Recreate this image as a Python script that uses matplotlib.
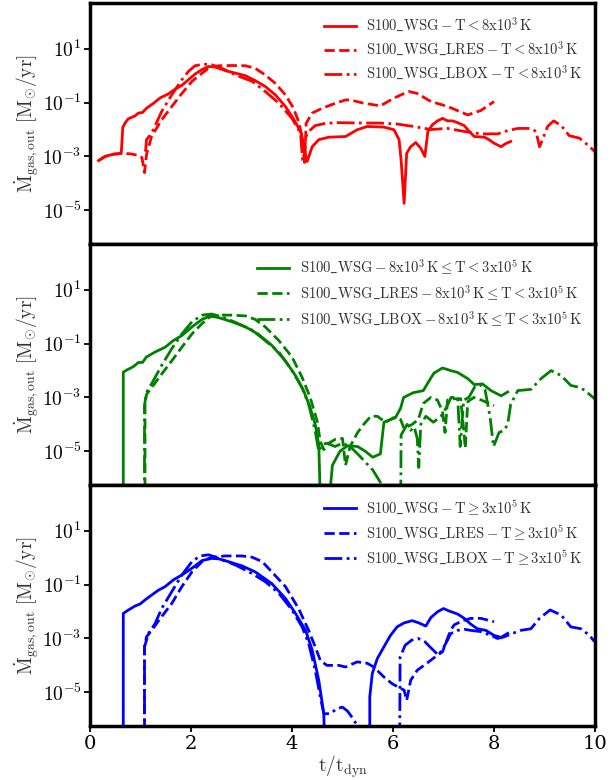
import numpy as np
import matplotlib
matplotlib.use("Agg")
import matplotlib.pyplot as plt
from matplotlib.ticker import FixedLocator, FuncFormatter, NullLocator

plt.rcParams['mathtext.fontset'] = 'cm'
plt.rcParams['font.family'] = 'DejaVu Serif'

BOTTOM = 1e-8  # values below the axis floor (curve leaves the panel)

# ---------------- cold gas (T < 8e3 K) ----------------
cold_wsg_t = [0.17, 0.3, 0.45, 0.62, 0.65, 0.70, 0.76, 0.89, 0.96, 1.04, 1.12, 1.26, 1.39, 1.55, 1.69, 1.82,
              1.95, 2.08, 2.22, 2.35, 2.48, 2.68, 2.88, 3.08, 3.27, 3.47, 3.67, 3.87, 4.03, 4.17, 4.23, 4.27,
              4.30, 4.40, 4.53, 4.73, 5.06, 5.29, 5.49, 5.82, 6.02, 6.12, 6.16, 6.22, 6.27, 6.35, 6.45, 6.55,
              6.63, 6.69, 6.78, 6.88, 6.98, 7.08, 7.18, 7.28, 7.41, 7.51, 7.61, 7.81, 7.90, 8.00, 8.14, 8.23, 8.33]
cold_wsg_m = [7e-4, 1.0e-3, 1.2e-3, 1.3e-3, 1.2e-2, 1.8e-2, 2.5e-2, 3.2e-2, 4.1e-2, 4.3e-2, 6.2e-2, 9.5e-2,
              0.15, 0.21, 0.32, 0.44, 0.71, 1.15, 1.7, 2.2, 2.1, 1.55, 1.25, 1.0, 0.66, 0.40, 0.195, 0.072,
              0.025, 8.5e-3, 3.1e-3, 1.1e-3, 6.5e-4, 2.3e-3, 4.2e-3, 5.2e-3, 5.5e-3, 9.8e-3, 1.3e-2, 1.23e-2,
              9.8e-3, 4.2e-3, 7.4e-4, 1.8e-5, 1.3e-3, 2.3e-3, 3.3e-3, 2.0e-3, 1.0e-3, 8.5e-3, 1.5e-2, 2.1e-2,
              2.6e-2, 2.1e-2, 2.1e-2, 1.8e-2, 1.4e-2, 8.5e-3, 5.5e-3, 5.2e-3, 4.2e-3, 3.1e-3, 2.3e-3, 3.0e-3, 3.6e-3]

cold_lres_t = [0.17, 0.3, 0.45, 0.62, 0.8, 0.95, 1.03, 1.08, 1.12, 1.22, 1.42, 1.62, 1.82, 2.02, 2.22, 2.38,
               2.55, 2.81, 3.08, 3.27, 3.47, 3.67, 3.87, 4.03, 4.13, 4.20, 4.23, 4.25, 4.28, 4.40, 4.60, 4.86,
               5.06, 5.16, 5.42, 5.75, 6.02, 6.31, 6.48, 6.75, 7.08, 7.48, 7.74, 8.0]
cold_lres_m = [7e-4, 1.0e-3, 1.2e-3, 1.3e-3, 1.25e-3, 1.1e-3, 9e-4, 2.5e-4, 1.2e-3, 5.5e-3, 2.3e-2, 7.2e-2,
               0.22, 0.62, 1.25, 2.1, 2.35, 2.4, 2.35, 1.9, 1.07, 0.52, 0.195, 0.062, 0.02, 5.5e-3, 1.3e-3,
               6e-4, 1.7e-2, 4.1e-2, 6.2e-2, 9.5e-2, 0.126, 0.126, 0.095, 0.076, 0.148, 0.26, 0.22, 0.11,
               0.072, 0.035, 0.051, 0.11]

cold_lbox_t = [1.10, 1.12, 1.22, 1.42, 1.62, 1.82, 1.95, 2.08, 2.25, 2.41, 2.61, 2.88, 3.21, 3.47, 3.74, 4.0,
               4.17, 4.21, 4.24, 4.27, 4.33, 4.46, 4.66, 4.92, 5.4, 5.75, 6.08, 6.41, 6.75, 7.08, 7.41, 7.74,
               8.07, 8.27, 8.47, 8.73, 8.83, 8.90, 8.96, 9.06, 9.18, 9.33, 9.49, 9.69, 9.85, 10.0]
cold_lbox_m = [1.5e-3, 4.2e-3, 7.2e-3, 4.7e-2, 0.195, 0.71, 1.45, 2.35, 2.7, 2.55, 1.9, 1.07, 0.62, 0.26,
               0.095, 0.026, 7.2e-3, 7.4e-4, 6.5e-4, 5e-3, 8.5e-3, 1.4e-2, 1.7e-2, 1.8e-2, 1.75e-2, 1.74e-2,
               1.6e-2, 1.3e-2, 1.0e-2, 1.1e-2, 8.5e-3, 6.9e-3, 6.9e-3, 9.1e-3, 1.1e-2, 1.1e-2, 8.5e-3, 2.3e-3,
               4.2e-3, 1.3e-2, 2.1e-2, 1.4e-2, 5.9e-3, 4.8e-3, 2.7e-3, 1.5e-3]

# ---------------- warm gas (8e3 K <= T < 3e5 K) ----------------
warm_wsg_t = [0.66, 0.66, 0.73, 0.86, 0.96, 1.04, 1.12, 1.29, 1.49, 1.65, 1.82, 2.02, 2.22, 2.38, 2.55, 2.81,
              3.08, 3.34, 3.6, 3.87, 4.07, 4.23, 4.36, 4.46, 4.53, 4.58, 4.68, 4.8, 4.95, 5.1, 5.3, 5.45, 5.6,
              5.75, 5.82, 5.95, 6.05, 6.15, 6.21, 6.4, 6.6, 6.71, 6.81, 6.98, 7.14, 7.28, 7.48, 7.61, 7.77,
              7.94, 8.14, 8.27]
warm_wsg_m = [BOTTOM, 8.7e-3, 1.05e-2, 1.4e-2, 2.0e-2, 2.0e-2, 3.2e-2, 4.9e-2, 7.4e-2, 0.13, 0.2, 0.42, 0.8,
              1.07, 0.93, 0.65, 0.42, 0.22, 0.087, 0.023, 6.5e-3, 1.8e-3, 4.2e-4, 1e-4, 1.8e-5, BOTTOM, BOTTOM,
              3e-6, 1e-5, 1.6e-5, 1.5e-5, 1e-5, 6e-6, 8e-6, 1.2e-4, 1.5e-4, 1.8e-4, 4e-4, 1e-3, 1.5e-3,
              1.8e-3, 4e-3, 8e-3, 1.25e-2, 1e-2, 8.5e-3, 5e-3, 3e-3, 3.2e-3, 1.8e-3, 1.15e-3, 1.6e-3]

warm_lres_t = [1.09, 1.09, 1.12, 1.22, 1.42, 1.62, 1.82, 2.02, 2.22, 2.38, 2.55, 2.81, 3.08, 3.27, 3.47, 3.74,
               4.0, 4.2, 4.36, 4.5, 4.56, 4.63, 4.73, 4.86, 5.0, 5.06, 5.15, 5.3, 5.42, 5.56, 5.69, 5.85, 6.02,
               6.15, 6.22, 6.38, 6.5, 6.6, 6.75, 6.88, 6.98, 7.03, 7.08, 7.2, 7.34, 7.4, 7.43, 7.48, 7.6,
               7.75, 7.9, 8.0]
warm_lres_m = [BOTTOM, 5.6e-4, 1.3e-3, 2.3e-3, 7.4e-3, 2.3e-2, 7.4e-2, 0.23, 0.56, 1.0, 1.15, 1.15, 1.07,
               0.8, 0.42, 0.13, 0.032, 5.6e-3, 1e-3, 1.3e-4, 2.3e-5, 1.15e-5, 2e-5, 2.8e-5, 3e-5, 3e-6,
               1.5e-5, 5e-5, 1e-4, 2e-4, 2e-4, 1.2e-4, 1.8e-4, 1.5e-4, 7e-5, 1e-4, 1.5e-4, 6e-4, 1e-3, 8e-4,
               3e-4, 5e-5, 8e-4, 9e-4, 9e-4, 6e-5, 1.3e-5, 7e-4, 1e-3, 8e-4, 6e-4, 5e-4]

warm_lbox_t = [1.08, 1.08, 1.12, 1.22, 1.42, 1.62, 1.82, 2.02, 2.22, 2.41, 2.61, 2.88, 3.21, 3.47, 3.74, 4.0,
               4.2, 4.33, 4.46, 4.53, 4.6, 4.7, 4.85, 5.0, 5.15, 5.3, 5.45, 5.6, 5.75, 5.82, 6.15, 6.16, 6.28,
               6.35, 6.42, 6.48, 6.51, 6.55, 6.65, 6.8, 6.95, 7.05, 7.15, 7.28, 7.33, 7.4, 7.5, 7.62, 7.72,
               7.82, 7.92, 7.99, 8.1, 8.2, 8.27, 8.33, 8.47, 8.73, 8.93, 9.13, 9.33, 9.52, 9.72, 9.85, 10.0]
warm_lbox_m = [BOTTOM, 5e-4, 1.55e-3, 3.2e-3, 1.55e-2, 6.5e-2, 0.23, 0.65, 1.15, 1.26, 1.0, 0.62, 0.32, 0.13,
               0.049, 0.01, 2.3e-3, 5.6e-4, 5.6e-5, 1e-5, 1.8e-5, 2e-5, 1.5e-5, 2e-5, 1.5e-5, 8e-6, 4e-6,
               2e-6, 7e-7, BOTTOM, BOTTOM, 4e-5, 1e-4, 6e-5, 8e-5, 3e-5, 2.5e-6, 1e-4, 2e-4, 1.2e-4, 2e-4,
               4e-4, 1e-3, 1e-3, 1.5e-5, 8e-4, 1e-3, 2.5e-3, 3e-3, 2e-3, 2e-4, 1.5e-5, 5e-5, 6e-5, 1e-4,
               5.6e-4, 1.8e-3, 2e-3, 5e-3, 1e-2, 6.5e-3, 2.8e-3, 2.3e-3, 1.5e-3, 8.7e-4]

# ---------------- hot gas (T >= 3e5 K) ----------------
hot_wsg_t = [0.66, 0.66, 0.73, 0.89, 0.99, 1.09, 1.22, 1.36, 1.49, 1.65, 1.82, 2.02, 2.22, 2.41, 2.55, 2.74,
             3.01, 3.27, 3.6, 3.87, 4.07, 4.27, 4.4, 4.53, 4.63, 4.66, 5.54, 5.54, 5.59, 5.69, 5.82, 5.95, 6.08,
             6.22, 6.38, 6.51, 6.65, 6.75, 6.88, 7.0, 7.11, 7.28, 7.41, 7.54, 7.67, 7.84, 8.0, 8.14, 8.27]
hot_wsg_m = [BOTTOM, 8.5e-3, 1.05e-2, 1.6e-2, 1.9e-2, 2.7e-2, 4.1e-2, 6.3e-2, 8.5e-2, 0.15, 0.23, 0.41, 0.79,
             0.95, 0.91, 0.72, 0.5, 0.3, 0.11, 0.031, 8.5e-3, 2e-3, 3.7e-4, 2.8e-5, 1.6e-6, BOTTOM, BOTTOM,
             6.8e-6, 5e-5, 1.8e-4, 4.9e-4, 1.3e-3, 2.7e-3, 3.8e-3, 4.6e-3, 3.8e-3, 2.9e-3, 6e-3, 9.8e-3,
             1.3e-2, 1.05e-2, 8.1e-3, 5.6e-3, 3.4e-3, 2.3e-3, 2.0e-3, 1.3e-3, 1.1e-3, 1.55e-3]

hot_lres_t = [1.08, 1.08, 1.12, 1.22, 1.42, 1.62, 1.82, 2.02, 2.22, 2.41, 2.68, 3.01, 3.21, 3.41, 3.6, 3.87,
              4.13, 4.33, 4.46, 4.56, 4.69, 4.93, 5.06, 5.29, 5.49, 5.62, 5.82, 5.98, 6.15, 6.22, 6.27, 6.35,
              6.48, 6.67, 6.88, 6.98, 7.04, 7.14, 7.21, 7.38, 7.54, 7.74, 8.0]
hot_lres_m = [BOTTOM, 4.9e-4, 1.15e-3, 2e-3, 6.5e-3, 2e-2, 8.5e-2, 0.3, 0.72, 1.05, 1.17, 1.17, 1.05, 0.72,
              0.3, 8.5e-2, 1.3e-2, 2e-3, 4.9e-4, 1.55e-4, 1e-4, 1e-4, 8.7e-5, 1.35e-4, 1.2e-4, 8.7e-5, 3.7e-5,
              2.1e-5, 1.4e-5, 1.2e-5, 5e-6, 2.8e-5, 6.6e-5, 1.2e-4, 2.4e-4, 3.2e-4, 6.5e-4, 2e-3, 3.2e-3,
              4.6e-3, 5.6e-3, 5.6e-3, 4.2e-3]

hot_lbox_t = [1.08, 1.08, 1.16, 1.29, 1.42, 1.62, 1.82, 2.02, 2.18, 2.35, 2.55, 2.88, 3.21, 3.47, 3.74, 4.0,
              4.2, 4.33, 4.46, 4.56, 4.63, 4.75, 4.9, 5.0, 5.1, 5.2, 5.3, 5.35, 6.13, 6.14, 6.24, 6.37, 6.5,
              6.63, 6.76, 6.9, 6.98, 7.08, 7.14, 7.28, 7.41, 7.54, 7.74, 7.94, 8.07, 8.2, 8.37, 8.53, 8.73,
              8.9, 9.11, 9.33, 9.52, 9.72, 9.89, 9.99]
hot_lbox_m = [BOTTOM, 4.9e-4, 1.55e-3, 3.6e-3, 1.3e-2, 5.5e-2, 0.23, 0.72, 1.17, 1.29, 0.95, 0.54, 0.26, 0.13,
              0.048, 0.0115, 2.7e-3, 6.5e-4, 6.6e-5, 6.8e-6, 1.6e-6, 1.6e-6, 2.5e-6, 2.8e-6, 2e-6, 1.1e-6,
              5.5e-7, BOTTOM, BOTTOM, 2e-4, 5.6e-4, 8.7e-4, 1e-3, 7.6e-4, 4.3e-4, 2.4e-4, 4e-4, 8.7e-4,
              1.5e-3, 2e-3, 2.2e-3, 2e-3, 1.8e-3, 1.3e-3, 1e-3, 1.15e-3, 1.55e-3, 2e-3, 2.3e-3, 5.6e-3,
              1.15e-2, 7.4e-3, 2.7e-3, 2.3e-3, 1.3e-3, 7.6e-4]

run_names = [r'\mathrm{S100\_WSG}', r'\mathrm{S100\_WSG\_LRES}', r'\mathrm{S100\_WSG\_LBOX}']
phase_labels = [r'\mathrm{T} < 8\mathrm{x}10^3\,\mathrm{K}',
                r'8\mathrm{x}10^3\,\mathrm{K} \leq \mathrm{T} < 3\mathrm{x}10^5\,\mathrm{K}',
                r'\mathrm{T} \geq 3\mathrm{x}10^5\,\mathrm{K}']
phase_colors = ['red', 'green', 'blue']
styles = ['-', '--', '-.']

panels = [
    [(cold_wsg_t, cold_wsg_m), (cold_lres_t, cold_lres_m), (cold_lbox_t, cold_lbox_m)],
    [(warm_wsg_t, warm_wsg_m), (warm_lres_t, warm_lres_m), (warm_lbox_t, warm_lbox_m)],
    [(hot_wsg_t, hot_wsg_m), (hot_lres_t, hot_lres_m), (hot_lbox_t, hot_lbox_m)],
]

y_ticks = [1e-5, 1e-3, 1e-1, 1e1]
x_ticks = [0, 2, 4, 6, 8, 10]

fig, axes = plt.subplots(3, 1, figsize=(6.16, 7.8), dpi=100, sharex=True)
fig.subplots_adjust(left=0.146, right=0.966, bottom=0.069, top=0.996, hspace=0)

fmt = FuncFormatter(lambda v, p: r'$10^{%d}$' % int(round(np.log10(v))))

for i, ax in enumerate(axes):
    for j, (t, m) in enumerate(panels[i]):
        ax.plot(t, m, color=phase_colors[i], ls=styles[j], lw=2.0,
                label=r'$%s - %s$' % (run_names[j], phase_labels[i]))
    ax.set_yscale('log')
    ax.set_ylim(5.5e-7, 5e2)
    ax.set_xlim(0, 10)
    ax.yaxis.set_major_locator(FixedLocator(y_ticks))
    ax.yaxis.set_minor_locator(NullLocator())
    ax.yaxis.set_major_formatter(fmt)
    ax.xaxis.set_major_locator(FixedLocator(x_ticks))
    ax.xaxis.set_minor_locator(NullLocator())
    ax.tick_params(axis='both', which='major', labelsize=14, direction='out', length=4, width=1.3, pad=2)
    for s in ax.spines.values():
        s.set_linewidth(2.5)
    ax.set_ylabel(r'$\dot{\mathrm{M}}_{\mathrm{gas,out}}\ [\mathrm{M}_{\odot}/\mathrm{yr}]$', fontsize=14,
                  labelpad=0, color='#333333')
    leg = ax.legend(loc='upper right', frameon=False, fontsize=10.5, handlelength=2.2,
                    handletextpad=0.7, labelspacing=0.4)
    for txt in leg.get_texts():
        txt.set_color('#333333')
    if i < 2:
        ax.tick_params(axis='x', bottom=False, labelbottom=False)

axes[-1].set_xlabel(r'$\mathrm{t/t_{dyn}}$', fontsize=14, labelpad=1, color='#333333')
fig.align_ylabels(axes)
fig.savefig('out.png', dpi=100)
